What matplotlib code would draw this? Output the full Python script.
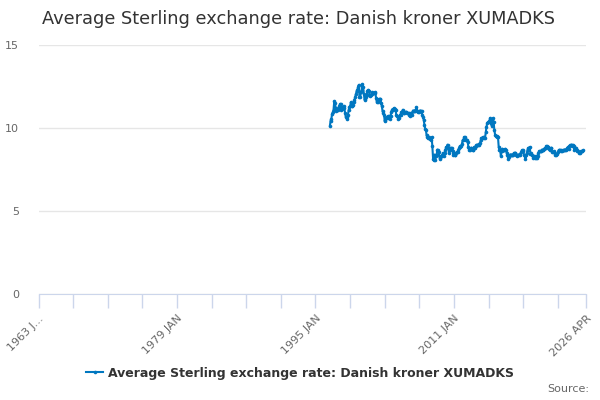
import numpy as np
import matplotlib.pyplot as plt

# categories run monthly from 1963 JAN to 2026 APR; the series begins late 1996
first_year = 1963
last_label = '2026 APR'
n_months = (2026 - first_year) * 12 + 4
data_start = (1996 - first_year) * 12 + 8

# monthly values, 12 per row
rates = [
    10.15, 10.45, 10.55, 10.85, 10.95, 11.10, 11.60, 11.50, 11.20, 11.05, 11.10, 11.10,
    11.20, 11.30, 11.45, 11.45, 11.10, 11.15, 11.25, 11.30, 11.20, 10.90, 10.65, 10.65,
    10.55, 10.80, 11.10, 11.25, 11.30, 11.55, 11.30, 11.30, 11.40, 11.55, 11.70, 11.85,
    12.05, 12.20, 12.30, 12.45, 12.60, 11.85, 11.85, 12.15, 12.30, 12.65, 12.45, 12.05,
    11.70, 11.75, 11.85, 12.00, 12.25, 12.30, 12.25, 11.90, 12.00, 12.00, 12.05, 12.15,
    12.10, 12.10, 12.15, 12.10, 11.80, 11.55, 11.55, 11.60, 11.75, 11.75, 11.75, 11.50,
    11.30, 11.00, 10.90, 10.80, 10.40, 10.50, 10.60, 10.65, 10.70, 10.60, 10.70, 10.55,
    10.70, 10.95, 11.10, 11.15, 11.10, 11.20, 11.15, 11.10, 10.80, 10.70, 10.65, 10.55,
    10.60, 10.80, 10.80, 10.95, 10.95, 11.10, 10.90, 10.90, 10.95, 10.95, 10.95, 10.90,
    10.90, 10.90, 10.80, 10.75, 10.90, 10.90, 10.80, 11.05, 11.05, 11.05, 11.05, 11.10,
    11.25, 11.05, 10.95, 10.95, 11.00, 11.05, 11.05, 11.00, 10.80, 10.65, 10.50, 10.20,
    9.95, 9.90, 9.55, 9.45, 9.40, 9.45, 9.40, 9.35, 9.30, 9.45, 8.90, 8.15,
    8.05, 8.40, 8.10, 8.30, 8.40, 8.70, 8.65, 8.55, 8.20, 8.15, 8.30, 8.30,
    8.40, 8.50, 8.30, 8.50, 8.65, 8.85, 8.85, 9.00, 8.80, 8.50, 8.70, 8.80,
    8.80, 8.80, 8.60, 8.40, 8.50, 8.40, 8.40, 8.50, 8.55, 8.55, 8.65, 8.80,
    8.90, 8.85, 8.90, 9.05, 9.25, 9.25, 9.45, 9.45, 9.30, 9.25, 9.30, 9.15,
    8.85, 8.65, 8.65, 8.80, 8.80, 8.75, 8.65, 8.65, 8.85, 8.80, 8.90, 8.95,
    9.00, 9.00, 8.95, 9.05, 9.10, 9.25, 9.40, 9.40, 9.45, 9.45, 9.40, 9.40,
    9.75, 10.05, 10.30, 10.35, 10.35, 10.40, 10.60, 10.45, 10.15, 10.30, 10.60, 10.35,
    9.85, 9.60, 9.50, 9.45, 9.50, 9.45, 8.85, 8.70, 8.65, 8.30, 8.60, 8.75,
    8.65, 8.70, 8.65, 8.75, 8.65, 8.50, 8.40, 8.15, 8.25, 8.35, 8.40, 8.40,
    8.40, 8.40, 8.40, 8.50, 8.50, 8.50, 8.40, 8.30, 8.35, 8.40, 8.40, 8.35,
    8.45, 8.55, 8.65, 8.65, 8.60, 8.40, 8.30, 8.15, 8.35, 8.50, 8.70, 8.80,
    8.80, 8.85, 8.45, 8.50, 8.35, 8.30, 8.20, 8.30, 8.20, 8.20, 8.30, 8.20,
    8.30, 8.50, 8.60, 8.60, 8.60, 8.60, 8.70, 8.70, 8.65, 8.75, 8.80, 8.80,
    8.90, 8.90, 8.85, 8.85, 8.75, 8.70, 8.80, 8.80, 8.55, 8.55, 8.55, 8.60,
    8.40, 8.40, 8.45, 8.45, 8.55, 8.65, 8.65, 8.65, 8.65, 8.60, 8.60, 8.65,
    8.65, 8.70, 8.70, 8.70, 8.75, 8.80, 8.85, 8.75, 8.90, 8.95, 8.95, 9.00,
    8.90, 8.95, 8.90, 8.70, 8.80, 8.80, 8.65, 8.60, 8.60, 8.50, 8.50, 8.55,
    8.60, 8.60, 8.60, 8.65,
]

tick_labels = ['1963 J...', '1979 JAN', '1995 JAN', '2011 JAN', last_label]

blue = '#0077c0'
grid = '#e6e6e6'
axis_col = '#ccd6eb'
text_col = '#666666'

fig = plt.figure(figsize=(6, 4), dpi=100)
ax = fig.add_axes([38.5 / 600, 1 - 294 / 400, (586 - 38.5) / 600, (294 - 45) / 400])

x = np.arange(data_start, data_start + len(rates))
ax.plot(x, rates, color=blue, lw=1.5, marker='o', ms=2.6, mew=0,
        label='Average Sterling exchange rate: Danish kroner XUMADKS', zorder=3)

ax.set_xlim(0, n_months - 1)
ax.set_ylim(0, 15)
ax.set_yticks([0, 5, 10, 15])
ax.yaxis.grid(True, color=grid, lw=1)
ax.set_axisbelow(True)
for s in ['top', 'right', 'left']:
    ax.spines[s].set_visible(False)
ax.spines['bottom'].set_color(axis_col)
ax.tick_params(axis='y', length=0, labelsize=8, labelcolor=text_col, pad=14)

minor = list(range(0, n_months, 48)) + [n_months - 1]
ax.set_xticks(minor, minor=True)
ax.tick_params(axis='x', which='minor', length=10, color=axis_col, width=1)
major = [0, 192, 384, 576, n_months - 1]
ax.set_xticks(major)
ax.set_xticklabels(tick_labels, rotation=45, ha='right', rotation_mode='anchor')
ax.tick_params(axis='x', which='major', length=10, color=axis_col, width=1,
               labelsize=8, labelcolor=text_col, pad=4)

fig.text(42 / 600, 1 - 19 / 400, 'Average Sterling exchange rate: Danish kroner XUMADKS',
         fontsize=12.8, color='#333333', va='center')

leg = fig.legend(loc='center', bbox_to_anchor=(0.5, 1 - 373 / 400), frameon=False,
                 prop={'size': 9, 'weight': 'bold'}, handlelength=1.3, handletextpad=0.4)
for t in leg.get_texts():
    t.set_color('#333333')

fig.text(589 / 600, 1 - 389 / 400, 'Source:', fontsize=8, color=text_col,
         ha='right', va='center')

fig.savefig('out.png', dpi=100)
